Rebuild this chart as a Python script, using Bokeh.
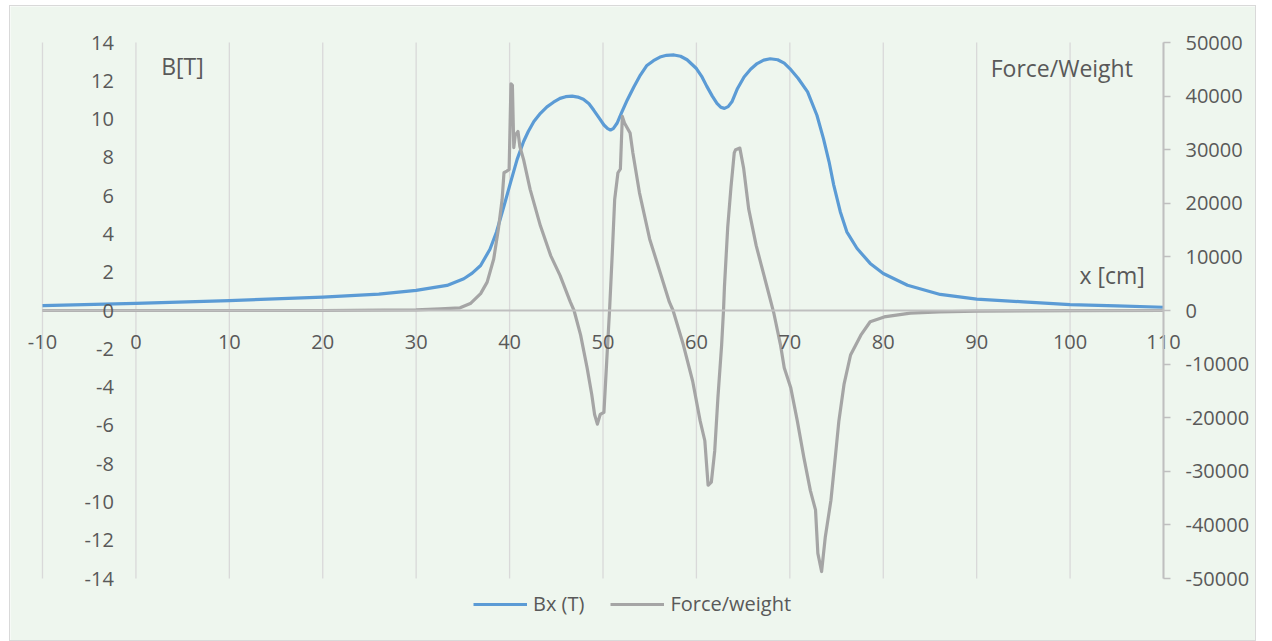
from bokeh.plotting import figure
from bokeh.models import Range1d, LinearAxis, FixedTicker, Legend, LegendItem, Label, PrintfTickFormatter
from bokeh.embed import file_html
from bokeh.resources import INLINE

# ---- data ----
x_ticks = [-10, 0, 10, 20, 30, 40, 50, 60, 70, 80, 90, 100, 110]
b_ticks = [-14, -12, -10, -8, -6, -4, -2, 0, 2, 4, 6, 8, 10, 12, 14]
f_ticks = [-50000, -40000, -30000, -20000, -10000, 0, 10000, 20000, 30000, 40000, 50000]

bx_x = [-10, 0, 10, 20, 26, 30, 33.3, 35.1, 36.0, 36.9, 37.9, 38.6, 39.4, 40.1, 40.8, 41.5,
        42.0, 42.6, 43.3, 44, 44.7, 45.4, 46.0, 46.7, 47.3, 47.9, 48.5, 49, 49.6, 50.1, 50.5,
        50.8, 51.1, 51.5, 52.0, 52.6, 53.3, 54.0, 54.7, 55.4, 56.1, 56.8, 57.6, 58.3,
        59, 60, 60.6, 61.1, 61.7, 62.2, 62.6, 63, 63.4, 63.8, 64.4, 65.1, 65.8, 66.5, 67.2,
        67.9, 68.7, 69.4, 70, 70.9, 71.9, 72.9, 73.6, 74.2, 74.7, 75.4, 76.1, 77.2, 78.6,
        80, 82.6, 86.1, 90, 95, 100, 105, 110]
bx_v = [0.25, 0.37, 0.52, 0.7, 0.86, 1.05, 1.31, 1.66, 1.95, 2.35, 3.2, 4.1, 5.46, 6.68, 7.88, 8.83,
        9.35, 9.87, 10.3, 10.64, 10.88, 11.08, 11.17, 11.2, 11.15, 11.03, 10.8, 10.47, 10.05, 9.69, 9.5,
        9.43, 9.5, 9.78, 10.35, 11.0, 11.68, 12.3, 12.8, 13.05, 13.24, 13.33, 13.35, 13.28,
        13.1, 12.64, 12.2, 11.72, 11.2, 10.82, 10.62, 10.56, 10.65, 10.9, 11.6, 12.2, 12.6, 12.9, 13.08,
        13.15, 13.1, 12.92, 12.64, 12.12, 11.42, 10.2, 8.98, 7.77, 6.55, 5.16, 4.11, 3.24, 2.46,
        1.93, 1.32, 0.84, 0.59, 0.45, 0.31, 0.24, 0.17]

fw_x = [-10, 0, 10, 20, 30, 32.6, 34.7, 35.8, 36.9, 37.6, 38.3, 38.8, 39.2, 39.4, 39.7, 39.95,
        40.15, 40.3, 40.45, 40.6, 40.9, 41.1, 41.5, 42.2, 43.3, 44.4, 45.4, 46.5, 46.9, 47.6,
        48.3, 48.8, 49.1, 49.4, 49.7, 50.1, 50.4, 50.7, 51.0, 51.25, 51.6, 51.86, 52.07, 52.3,
        52.9, 53.2, 53.9, 55.0, 56.1, 57.1, 57.5, 58.6, 59.6, 60.4, 60.9, 61.25, 61.6, 61.96,
        62.3, 62.7, 62.9, 63.0, 63.35, 63.7, 64.05, 64.2, 64.65, 65.05, 65.6, 66.4, 67.6, 68.3,
        69.0, 69.4, 70.1, 70.8, 71.5, 72.2, 72.75, 73.0, 73.4, 73.8, 74.4, 74.9, 75.25, 75.8,
        76.5, 77.6, 78.6, 80.1, 82.9, 86, 90, 100, 110]
fw_v = [0, 0, 0, 0, 100, 300, 500, 1300, 3150, 5300, 9600, 15200, 20700, 25700, 26000, 26300,
        42300, 42000, 30400, 32700, 33400, 30600, 28150, 22600, 15800, 10250, 6550, 1600, 0, -4550,
        -10700, -15700, -19400, -21200, -19400, -19000, -9400, 0, 10900, 20700, 25700, 26400, 36200, 35000,
        33100, 29400, 22000, 13300, 7200, 1600, 0, -6400, -13200, -20600, -24300, -32600, -32000, -26200,
        -16300, -6400, 0, 4400, 15500, 23000, 29400, 30000, 30300, 26600, 18900, 12100, 4100, -600,
        -6400, -10700, -14400, -20600, -27400, -33600, -37200, -45300, -48700, -42200, -35400, -26800, -20600, -13800,
        -8300, -4600, -2100, -1200, -500, -250, -100, -30, 0]

# ---- style / layout ----
BG = "#EEF6EE"
TXT = "#595959"
FONT = "Open Sans"
BLUE = "#5B9BD5"
GRAY = "#A5A5A5"
GRID = "#D9D9D9"
AXIS = "#BFBFBF"

W, H = 1247, 636                     # canvas size
PL, PR, PT, PB = 32, 1153, 36, 572   # plot-area edges inside the canvas (px)
X0, X1 = x_ticks[0], x_ticks[-1]
Y0, Y1 = b_ticks[0], b_ticks[-1]
F0, F1 = f_ticks[0], f_ticks[-1]
ux = (X1 - X0) / (PR - PL)
uy = (Y1 - Y0) / (PB - PT)
uf = (F1 - F0) / (PB - PT)

p = figure(width=W, height=H, output_backend="svg", toolbar_location=None,
           x_range=Range1d(X0 - PL * ux, X1 + (W - PR) * ux),
           y_range=Range1d(Y0 - (H - PB) * uy, Y1 + PT * uy),
           min_border=0, min_border_left=0, min_border_right=0, min_border_top=0, min_border_bottom=0,
           background_fill_color=BG, border_fill_color=BG, outline_line_color=None)
p.styles = {"border": "1px solid #D9D9D9", "margin-left": "9px", "margin-top": "5px"}
p.extra_y_ranges = {"f": Range1d(F0 - (H - PB) * uf, F1 + PT * uf)}
p.xgrid.visible = False
p.ygrid.visible = False

# vertical gridlines limited to the plot area
p.segment(x0=x_ticks, x1=x_ticks, y0=[Y0] * len(x_ticks), y1=[Y1] * len(x_ticks),
          line_color=GRID, line_width=1.3)

# x axis at y=0
xa = p.xaxis[0]
xa.fixed_location = 0
xa.bounds = (X0, X1)
xa.ticker = FixedTicker(ticks=x_ticks)
xa.formatter = PrintfTickFormatter(format="%d")
xa.axis_line_color = AXIS
xa.axis_line_width = 2
xa.major_tick_line_color = None
xa.minor_tick_line_color = None
xa.major_tick_out = 0
xa.major_tick_in = 0
xa.major_label_standoff = 24
xa.major_label_text_font = FONT
xa.major_label_text_font_size = "20px"
xa.major_label_text_color = TXT

# left axis at x=0
ya = p.yaxis[0]
ya.fixed_location = 0
ya.ticker = FixedTicker(ticks=b_ticks)
ya.formatter = PrintfTickFormatter(format="%d")
ya.axis_line_color = None
ya.major_tick_line_color = None
ya.minor_tick_line_color = None
ya.major_tick_out = 0
ya.major_tick_in = 0
ya.major_label_standoff = 22
ya.major_label_text_font = FONT
ya.major_label_text_font_size = "20px"
ya.major_label_text_color = TXT

# right axis at x=110
ra = LinearAxis(y_range_name="f", ticker=FixedTicker(ticks=f_ticks), fixed_location=X1,
                bounds=(F0, F1), formatter=PrintfTickFormatter(format="%d"))
ra.axis_line_color = AXIS
ra.axis_line_width = 2
ra.major_tick_line_color = AXIS
ra.major_tick_line_width = 1.5
ra.major_tick_out = 7
ra.major_tick_in = 0
ra.minor_tick_line_color = None
ra.major_label_standoff = 15
ra.major_label_text_font = FONT
ra.major_label_text_font_size = "20px"
ra.major_label_text_color = TXT
p.add_layout(ra, "right")

# series
r_b = p.line(bx_x, bx_v, line_color=BLUE, line_width=3.2, line_join="round")
r_f = p.line(fw_x, fw_v, line_color=GRAY, line_width=3.2, line_join="round", y_range_name="f")

# labels
for txt, x, y in [("B[T]", 2.7, 12.75), ("Force/Weight", 91.5, 12.65), ("x [cm]", 101.0, 1.87)]:
    p.add_layout(Label(x=x, y=y, text=txt, text_font=FONT, text_font_size="23px",
                       text_color=TXT, text_baseline="middle", text_align="left"))

legend = Legend(items=[LegendItem(label="Bx (T)", renderers=[r_b]),
                       LegendItem(label="Force/weight", renderers=[r_f])],
                orientation="horizontal", location=(463, 25),
                label_text_font=FONT, label_text_font_size="20px", label_text_color=TXT,
                glyph_width=54, glyph_height=20, label_standoff=6, spacing=26,
                padding=0, margin=0, background_fill_alpha=0, border_line_color=None)
p.add_layout(legend, "center")

open("out.html", "w").write(file_html(p, INLINE))
